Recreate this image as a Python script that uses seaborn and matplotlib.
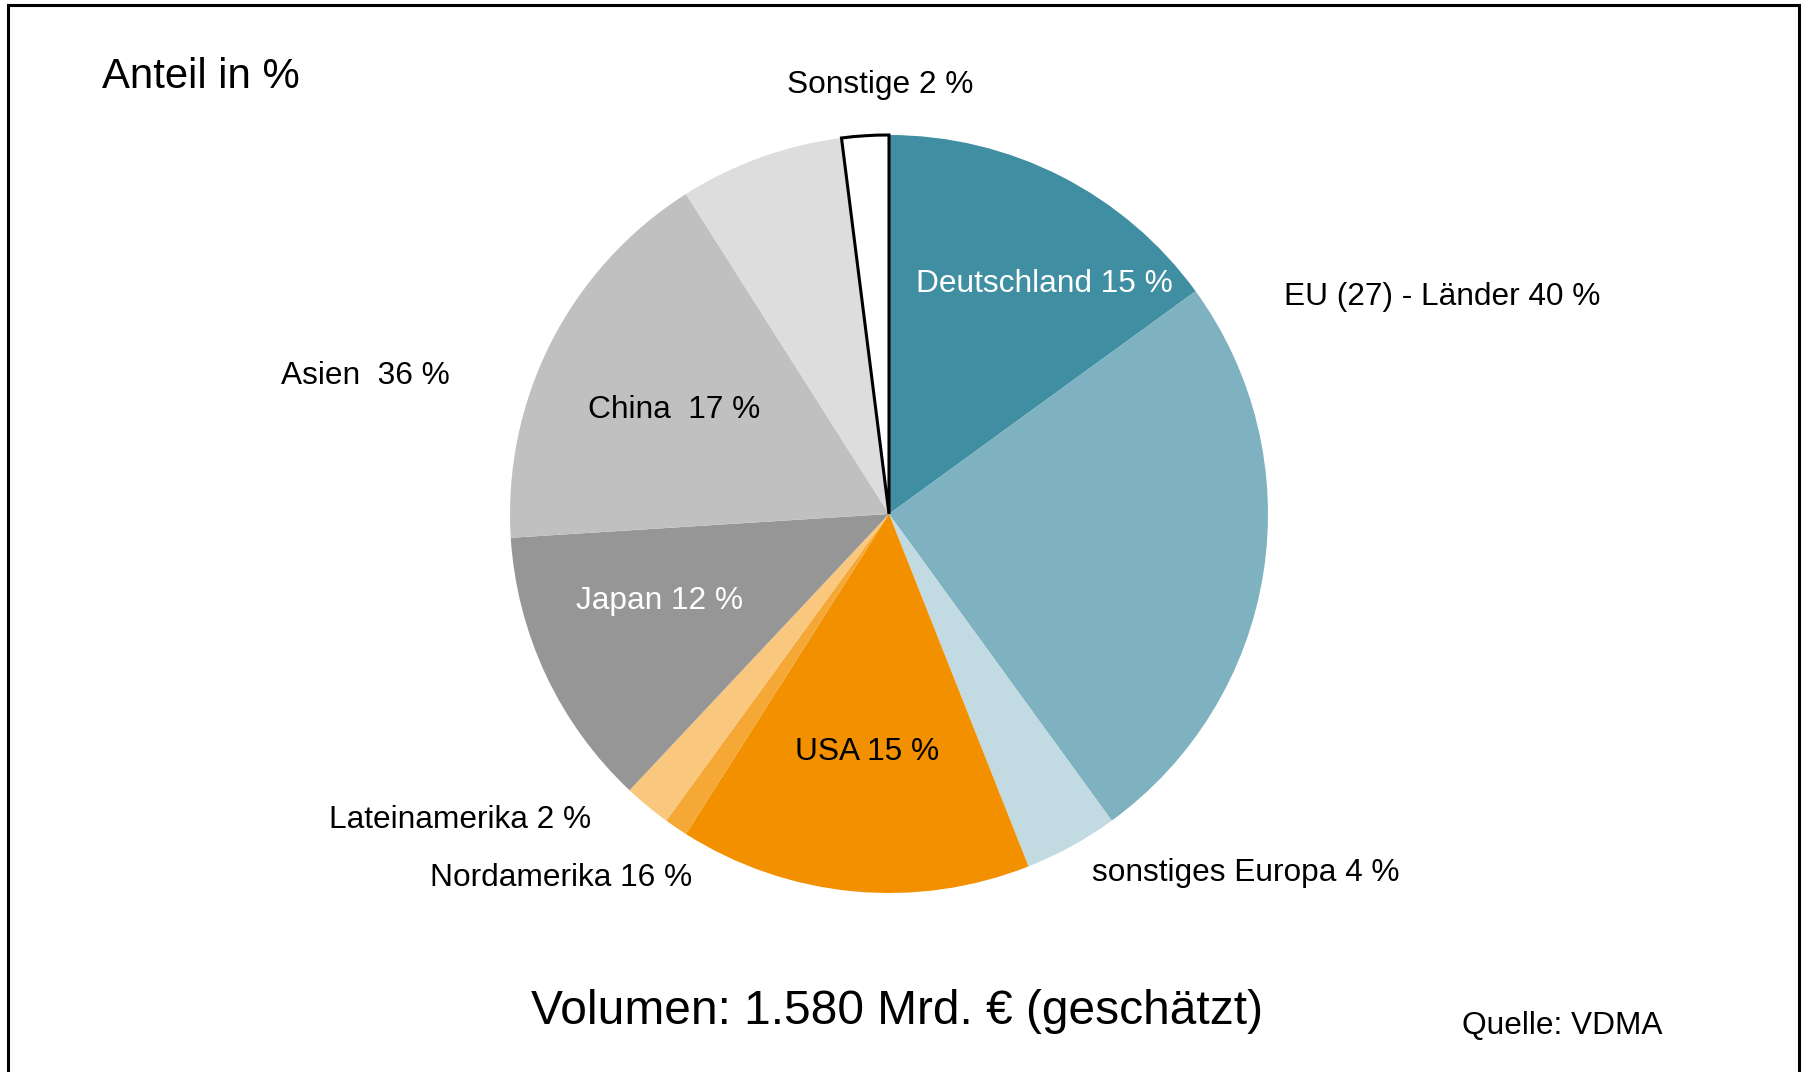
import matplotlib
matplotlib.use("Agg")
import matplotlib.pyplot as plt
import seaborn as sns
from matplotlib.patches import Rectangle

# Data (clockwise from 12 o'clock)
segments = ["Deutschland", "EU übrige", "sonstiges Europa", "USA", "Nordamerika übrige",
            "Lateinamerika", "Japan", "China", "Asien übrige", "Sonstige"]
shares = [15, 25, 4, 15, 1, 2, 12, 17, 7, 2]
colors = ["#3F8EA1", "#7FB2C0", "#C2DAE1", "#F39000", "#F5A835",
          "#F9C87E", "#969696", "#C0C0C0", "#DDDDDD", "#FFFFFF"]

sns.set_theme(style="white")
plt.rcParams['font.family'] = ['Liberation Sans', 'DejaVu Sans']
plt.rcParams['text.color'] = 'black'

W, H = 1804, 1072
fig = plt.figure(figsize=(W / 100, H / 100), dpi=100)
ax = fig.add_axes([0, 0, 1, 1])

def Y(y):
    return H - y

wedges, _ = ax.pie(shares, colors=colors, startangle=90, counterclock=False,
                   center=(889, Y(514)), radius=379, frame=True,
                   wedgeprops=dict(linewidth=0))
wedges[-1].set_edgecolor('black')
wedges[-1].set_linewidth(2.2)
ax.set_xlim(0, W)
ax.set_ylim(0, H)
ax.set_aspect('equal')
ax.axis('off')

lab = 22.8
dy = 2.5
ax.text(102, Y(74 + dy), "Anteil in %", fontsize=30.2, ha='left', va='center')
ax.text(880, Y(83 + dy), "Sonstige 2 %", fontsize=lab, ha='center', va='center')
ax.text(1044, Y(281 + dy), "Deutschland 15 %", fontsize=lab, ha='center', va='center', color='white')
ax.text(1284, Y(295 + dy), "EU (27) - Länder 40 %", fontsize=lab, ha='left', va='center')
ax.text(281, Y(374 + dy), "Asien  36 %", fontsize=lab, ha='left', va='center')
ax.text(674, Y(408 + dy), "China  17 %", fontsize=lab, ha='center', va='center')
ax.text(659, Y(599 + dy), "Japan 12 %", fontsize=lab, ha='center', va='center', color='white')
ax.text(867, Y(750 + dy), "USA 15 %", fontsize=lab, ha='center', va='center')
ax.text(329, Y(818 + dy), "Lateinamerika 2 %", fontsize=lab, ha='left', va='center')
ax.text(430, Y(876 + dy), "Nordamerika 16 %", fontsize=lab, ha='left', va='center')
ax.text(1092, Y(870 + dy), "sonstiges Europa 4 %", fontsize=lab, ha='left', va='center')
ax.text(897, Y(1009 + dy), "Volumen: 1.580 Mrd. € (geschätzt)", fontsize=34.5, ha='center', va='center')
ax.text(1462, Y(1023 + dy), "Quelle: VDMA", fontsize=lab, ha='left', va='center')

# frame around the chart (bottom edge outside the image)
fig.patches.append(Rectangle((8 / W, -0.05), (1799 - 8) / W, (H - 5) / H + 0.05,
                             transform=fig.transFigure, fill=False,
                             edgecolor='black', linewidth=2.2))

fig.savefig("out.png", dpi=100, facecolor='white')
